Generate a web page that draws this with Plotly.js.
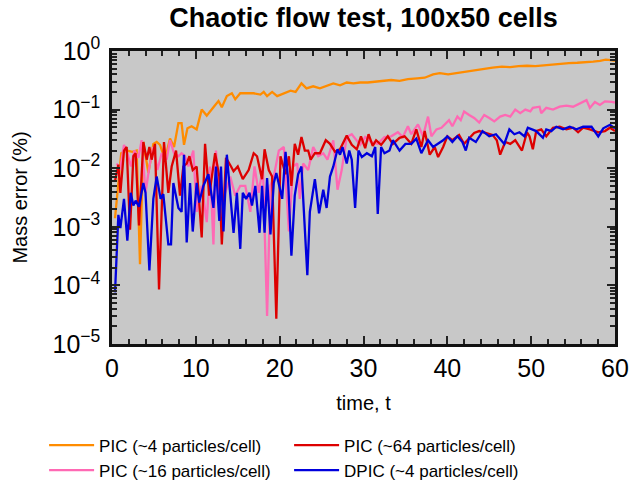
<!DOCTYPE html>
<html>
<head>
<meta charset="utf-8">
<script src="https://cdn.plot.ly/plotly-3.0.1.min.js"></script>
<style>body{margin:0;} #chart{width:638px;height:500px;}</style>
</head>
<body>
<div id="chart"></div>
<script>
// PIC (~4 particles/cell)
var tPic4 = [0.36,0.76,1.1,1.75,2.43,2.94,3.34,3.74,4.34,4.93,5.33,5.73,6.32,6.92,7.4,7.92,8.3,8.59,9.0,9.5,10.1,10.7,11.3,12.1,12.7,13.1,13.7,14.3,14.7,15.3,16.1,16.9,17.7,18.1,18.5,19.1,19.7,20.5,21.3,21.9,22.6,23.2,24.0,24.8,25.6,26.4,27.2,28.0,28.8,29.6,30.5,31.4,32.3,33.3,34.3,35.3,36.4,37.3,38.3,39.1,40.1,41.1,42.2,43.4,44.3,45.4,46.5,47.5,48.5,49.5,50.5,51.5,52.5,53.5,54.5,55.5,56.5,57.4,58.2,58.9,59.5,60];
var ePic4 = [0.0014,0.0065,0.018,0.020,0.019,0.020,0.00023,0.028,0.0083,0.026,0.028,0.025,0.014,0.032,0.023,0.059,0.059,0.025,0.048,0.052,0.046,0.10,0.079,0.11,0.14,0.11,0.17,0.19,0.15,0.19,0.19,0.19,0.18,0.20,0.17,0.20,0.17,0.19,0.21,0.20,0.28,0.23,0.25,0.23,0.25,0.28,0.26,0.29,0.28,0.29,0.29,0.30,0.31,0.32,0.31,0.33,0.34,0.35,0.40,0.42,0.40,0.42,0.44,0.47,0.50,0.52,0.54,0.53,0.55,0.56,0.55,0.57,0.59,0.60,0.62,0.63,0.64,0.66,0.68,0.71,0.70,0.68];

// PIC (~16 particles/cell)
var tPic16 = [0.56,0.96,1.43,1.83,2.27,2.67,3.14,3.54,4.0,4.46,4.93,5.41,5.93,6.52,6.92,7.4,7.92,8.3,8.7,9.11,9.7,10.1,10.7,11.3,11.7,12.1,12.4,12.9,13.5,14.1,14.7,15.3,15.9,16.5,17.0,17.5,18.0,18.5,18.9,19.3,19.9,20.5,21.1,21.6,22.1,22.4,22.8,23.4,24.0,24.6,25.2,25.7,26.4,26.9,27.4,28.0,28.6,29.2,29.6,30.2,30.9,31.7,32.5,33.3,34.1,34.7,35.3,35.7,36.5,37.1,37.7,38.1,38.7,39.3,39.9,40.2,40.6,41.2,41.6,42.0,42.6,43.2,43.8,44.4,45.0,45.6,46.3,46.9,47.5,48.1,48.7,49.3,49.9,50.2,51.0,51.2,51.8,52.6,53.4,54.2,55.0,55.8,56.6,57.0,57.6,58.2,58.8,59.6,60];
var ePic16 = [0.012,0.0093,0.025,0.018,0.0107,0.020,0.015,0.030,0.0038,0.0107,0.023,0.0093,0.018,0.014,0.030,0.018,0.016,0.018,0.016,0.0107,0.020,0.0018,0.005,0.0012,0.0107,0.0005,0.020,0.0023,0.0038,0.0072,0.0034,0.005,0.005,0.0018,0.0107,0.0038,0.0107,0.00003,0.005,0.0072,0.020,0.023,0.00083,0.0107,0.012,0.003,0.012,0.0093,0.023,0.016,0.018,0.014,0.030,0.0043,0.0093,0.034,0.038,0.030,0.025,0.034,0.028,0.026,0.034,0.035,0.041,0.034,0.052,0.038,0.056,0.035,0.076,0.035,0.046,0.049,0.060,0.066,0.052,0.076,0.066,0.093,0.081,0.072,0.060,0.081,0.072,0.063,0.076,0.081,0.076,0.10,0.087,0.10,0.093,0.107,0.112,0.087,0.107,0.10,0.112,0.117,0.112,0.126,0.145,0.107,0.135,0.12,0.138,0.135,0.132];

// PIC (~64 particles/cell)
var tPic64 = [0.36,0.76,1.0,1.43,1.75,2.15,2.55,2.82,3.22,3.74,4.14,4.46,4.73,5.13,5.61,6.2,6.72,7.12,7.64,8.11,8.51,8.91,9.23,9.63,10.1,10.7,11.1,11.6,12.3,12.8,13.1,13.6,14.2,14.5,15.0,15.6,16.3,16.9,17.3,17.9,18.2,18.7,19.1,19.6,20.1,20.7,21.1,21.4,21.8,22.2,22.6,23.0,23.4,23.7,24.2,24.8,25.5,26.0,26.6,27.2,28.0,28.6,29.2,29.7,30.2,30.6,31.1,31.5,32.1,32.9,33.5,34.3,34.9,35.7,36.3,36.9,37.3,37.9,38.5,38.9,39.5,40.0,40.6,41.4,42.0,42.6,43.2,43.8,44.6,45.4,45.9,46.3,46.9,47.5,48.1,48.9,49.5,49.8,50.2,50.6,51.2,51.8,52.6,53.4,54.2,55.0,55.6,56.2,57.0,58.0,58.8,59.4,60];
var ePic64 = [0.0060,0.0115,0.0038,0.020,0.023,0.00089,0.016,0.018,0.00105,0.028,0.014,0.023,0.014,0.026,0.000085,0.028,0.0038,0.0107,0.020,0.0034,0.0107,0.012,0.016,0.0093,0.0107,0.00066,0.026,0.0034,0.018,0.0072,0.0005,0.015,0.0107,0.0089,0.0107,0.0065,0.0093,0.018,0.016,0.0065,0.021,0.0093,0.0072,0.000027,0.016,0.0079,0.016,0.005,0.026,0.017,0.034,0.020,0.020,0.014,0.018,0.018,0.030,0.026,0.019,0.021,0.036,0.025,0.021,0.035,0.022,0.038,0.024,0.030,0.025,0.035,0.026,0.033,0.035,0.026,0.046,0.023,0.043,0.017,0.023,0.0155,0.023,0.035,0.030,0.037,0.026,0.033,0.040,0.043,0.040,0.037,0.030,0.017,0.028,0.026,0.030,0.020,0.041,0.035,0.021,0.043,0.046,0.035,0.049,0.051,0.046,0.049,0.041,0.049,0.046,0.041,0.043,0.049,0.043];

// DPIC (~4 particles/cell)
var tDpic4 = [0.36,0.76,1.0,1.43,1.83,2.23,2.55,2.82,3.22,3.74,4.0,4.46,4.93,5.33,5.8,6.12,6.72,7.04,7.32,7.92,8.3,8.59,8.91,9.31,9.63,10.1,10.4,10.9,11.5,12.1,12.4,12.8,13.0,13.3,13.7,14.5,14.9,15.3,15.6,16.0,16.4,16.7,17.1,17.6,17.9,18.2,18.5,18.9,19.3,19.6,20.3,20.7,21.0,21.4,21.8,22.2,22.6,23.3,23.6,24.2,24.7,25.2,25.6,26.0,26.4,26.9,27.2,27.5,28.0,28.3,28.6,29.0,29.4,29.8,30.4,31.0,31.4,31.7,32.1,32.5,33.1,33.5,34.3,35.0,35.7,36.3,36.9,37.7,38.3,38.9,39.5,40.0,40.6,41.2,41.8,42.2,42.6,43.4,44.2,45.0,45.8,46.8,47.4,48.0,48.6,49.2,49.6,50.1,50.6,51.4,51.8,52.4,53.0,53.8,54.6,55.4,56.2,57.2,58.0,58.6,59.4,60];
var eDpic4 = [0.000076,0.0016,0.00095,0.003,0.00058,0.0038,0.0023,0.0028,0.0022,0.0056,0.0038,0.00018,0.003,0.0072,0.003,0.0036,0.0005,0.0005,0.0056,0.0021,0.0018,0.017,0.00054,0.0056,0.00083,0.0056,0.0026,0.005,0.0079,0.0021,0.0107,0.00126,0.0107,0.00083,0.017,0.00079,0.0038,0.00042,0.0038,0.003,0.0038,0.0023,0.005,0.00079,0.005,0.00079,0.0068,0.00074,0.0056,0.0083,0.003,0.019,0.0065,0.00032,0.0034,0.0079,0.0107,0.00015,0.0018,0.0065,0.0017,0.0043,0.0021,0.0072,0.0107,0.021,0.017,0.023,0.012,0.020,0.014,0.0021,0.020,0.0155,0.018,0.016,0.023,0.00166,0.023,0.018,0.020,0.030,0.020,0.026,0.026,0.032,0.018,0.030,0.023,0.026,0.030,0.035,0.028,0.035,0.028,0.020,0.033,0.028,0.043,0.035,0.038,0.026,0.046,0.038,0.041,0.035,0.049,0.046,0.043,0.033,0.046,0.043,0.051,0.046,0.051,0.046,0.051,0.051,0.035,0.048,0.055,0.048];

var yTickVals = [1e-5, 1e-4, 1e-3, 1e-2, 1e-1, 1];
var yTickText = ['10<sup>\u22125</sup>', '10<sup>\u22124</sup>', '10<sup>\u22123</sup>', '10<sup>\u22122</sup>', '10<sup>\u22121</sup>', '10<sup>0</sup>'];

var font = 'Liberation Sans, Arial, sans-serif';

function line(t, e, name, color, rank) {
    return {
        x: t, y: e, name: name, type: 'scatter', mode: 'lines',
        line: { color: color, width: 2.3 }, legendrank: rank
    };
}

var traces = [
    line(tPic4, ePic4, 'PIC (~4 particles/cell)', '#ff8c00', 1),
    line(tPic16, ePic16, 'PIC (~16 particles/cell)', '#ff69b4', 3),
    line(tPic64, ePic64, 'PIC (~64 particles/cell)', '#dd0000', 2),
    line(tDpic4, eDpic4, 'DPIC (~4 particles/cell)', '#0000dd', 4)
];

var layout = {
    width: 638, height: 500,
    margin: { l: 112, r: 23, t: 51, b: 147 },
    paper_bgcolor: '#ffffff',
    plot_bgcolor: '#c8c8c8',
    font: { family: font, color: '#000000' },
    title: {
        text: '<b>Chaotic flow test, 100x50 cells</b>',
        font: { size: 27, family: font },
        x: 0.5, xref: 'paper', xanchor: 'center', y: 0.965, yanchor: 'middle'
    },
    xaxis: {
        range: [0, 60],
        tickvals: [0, 10, 20, 30, 40, 50, 60],
        ticks: 'inside', ticklen: 8, tickwidth: 2, tickcolor: '#222',
        minor: { dtick: 2, ticks: 'inside', ticklen: 5, tickwidth: 1.5, tickcolor: '#222' },
        showline: true, linecolor: '#111', linewidth: 2.5, mirror: 'ticks',
        showgrid: false, zeroline: false,
        tickfont: { size: 25 },
        title: { text: 'time, t', font: { size: 20 }, standoff: 16 }
    },
    yaxis: {
        type: 'log',
        range: [-5, 0],
        tickvals: yTickVals, ticktext: yTickText,
        ticks: 'inside', ticklen: 8, tickwidth: 2, tickcolor: '#222',
        minor: { dtick: 'D1', ticks: 'inside', ticklen: 5, tickwidth: 1.5, tickcolor: '#222' },
        showline: true, linecolor: '#111', linewidth: 2.5, mirror: 'ticks',
        showgrid: false, zeroline: false,
        tickfont: { size: 25 },
        ticklabelstandoff: 4,
        title: { text: 'Mass error (%)', font: { size: 20 }, standoff: 20 }
    },
    showlegend: true,
    legend: {
        orientation: 'h',
        x: -0.135, xanchor: 'left',
        y: -0.285, yanchor: 'top',
        entrywidth: 185, entrywidthmode: 'pixels',
        itemwidth: 45,
        font: { size: 17 },
        bgcolor: 'rgba(0,0,0,0)',
        tracegroupgap: 0
    }
};

Plotly.newPlot(document.getElementById('chart'), traces, layout, { displayModeBar: false });
</script>
</body>
</html>
